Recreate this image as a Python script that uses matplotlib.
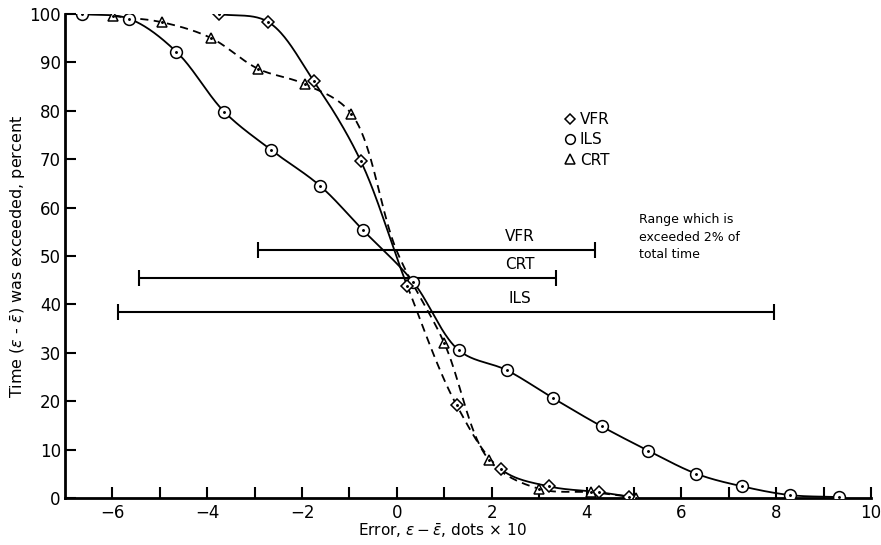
import numpy as np
import matplotlib

matplotlib.use("Agg")

import matplotlib.pyplot as plt
from matplotlib.lines import Line2D


# values
ils_x = [-6.65, -5.64, -4.65, -3.64, -2.65, -1.62, -0.72, 0.34, 1.31, 2.32, 3.30, 4.32, 5.30, 6.32, 7.29, 8.30, 9.33]
ils_y = [100.0, 99.0, 92.2, 79.8, 71.9, 64.5, 55.4, 44.7, 30.5, 26.4, 20.6, 14.8, 9.8, 5.0, 2.4, 0.6, 0.2]

vfr_x = [-3.75, -2.72, -1.75, -0.76, 0.22, 1.26, 2.20, 3.21, 4.27, 4.90]
vfr_y = [100.0, 98.4, 86.1, 69.6, 43.8, 19.2, 5.9, 2.4, 1.2, 0.3]

crt_x = [-5.98, -4.95, -3.93, -2.93, -1.94, -0.96, 1.00, 1.95, 3.00, 4.10, 5.05]
crt_y = [99.6, 98.3, 95.1, 88.7, 85.5, 79.4, 32.0, 7.8, 1.9, 1.2, 0.1]

# the dashed CRT curve also runs through the common crossing near (0, 51)
crt_knot_x = [0.0]
crt_knot_y = [51.0]

range_names = ["VFR", "CRT", "ILS"]
range_lo = [-2.93, -5.45, -5.89]
range_hi = [4.18, 3.35, 7.95]
range_y = [51.3, 45.4, 38.4]

x_major = [-6, -4, -2, 0, 2, 4, 6, 8, 10]
x_minor = [-5, -3, -1, 1, 3, 5, 7, 9]
y_ticks = [0, 10, 20, 30, 40, 50, 60, 70, 80, 90, 100]


def _smooth(xs, ys, n=40, xscale=10.0):
    """Centripetal Catmull-Rom curve through the read points (drawing only)."""
    p = np.column_stack([np.asarray(xs, float) * xscale, np.asarray(ys, float)])
    p = np.vstack([2 * p[0] - p[1], p, 2 * p[-1] - p[-2]])
    out = [p[1]]
    for i in range(1, len(p) - 2):
        p0, p1, p2, p3 = p[i - 1], p[i], p[i + 1], p[i + 2]
        t0 = 0.0
        t1 = t0 + np.linalg.norm(p1 - p0) ** 0.5
        t2 = t1 + np.linalg.norm(p2 - p1) ** 0.5
        t3 = t2 + np.linalg.norm(p3 - p2) ** 0.5
        t = np.linspace(t1, t2, n)[1:, None]
        a1 = (t1 - t) / (t1 - t0) * p0 + (t - t0) / (t1 - t0) * p1
        a2 = (t2 - t) / (t2 - t1) * p1 + (t - t1) / (t2 - t1) * p2
        a3 = (t3 - t) / (t3 - t2) * p2 + (t - t2) / (t3 - t2) * p3
        b1 = (t2 - t) / (t2 - t0) * a1 + (t - t0) / (t2 - t0) * a2
        b2 = (t3 - t) / (t3 - t1) * a2 + (t - t1) / (t3 - t1) * a3
        c = (t2 - t) / (t2 - t1) * b1 + (t - t1) / (t2 - t1) * b2
        out.extend(c)
    out = np.array(out)
    return out[:, 0] / xscale, out[:, 1]


def _markers(ax, xs, ys, marker, ms):
    ax.plot(xs, ys, ls="none", marker=marker, ms=ms, mfc="white", mec="black", mew=1.1, zorder=4)
    ax.plot(xs, ys, ls="none", marker=".", ms=2.2, color="black", zorder=5)


def main() -> None:
    plt.rcParams["font.family"] = "DejaVu Sans"
    plt.rcParams["mathtext.fontset"] = "dejavusans"

    fig = plt.figure(figsize=(8.81, 5.45), dpi=100)
    ax = fig.add_axes([0.0738, 0.0862, 0.9148, 0.888])

    lw = 1.3
    dash = (4.5, 3.0)

    # ILS (solid)
    sx, sy = _smooth(ils_x, ils_y)
    ax.plot(sx, sy, color="black", lw=lw, zorder=3)

    # VFR (solid, dashed between the 0.2 and 2.2 points)
    sx, sy = _smooth(vfr_x, vfr_y)
    lo, hi = vfr_x[4], vfr_x[6]
    ax.plot(np.where(sx <= lo + 1e-9, sx, np.nan), sy, color="black", lw=lw, zorder=3)
    ax.plot(np.where(sx >= hi - 1e-9, sx, np.nan), sy, color="black", lw=lw, zorder=3)
    mid = (sx >= lo - 1e-9) & (sx <= hi + 1e-9)
    ax.plot(sx[mid], sy[mid], color="black", lw=lw, dashes=dash, zorder=3)

    # CRT (dashed)
    order = np.argsort(crt_x + crt_knot_x)
    cx = np.array(crt_x + crt_knot_x)[order]
    cy = np.array(crt_y + crt_knot_y)[order]
    sx, sy = _smooth(cx, cy)
    ax.plot(sx, sy, color="black", lw=lw, dashes=dash, zorder=3)

    _markers(ax, ils_x, ils_y, "o", 8.5)
    _markers(ax, vfr_x, vfr_y, "D", 6.3)
    _markers(ax, crt_x, crt_y, "^", 7.8)

    # ranges exceeded 2% of total time
    ax.hlines(range_y, range_lo, range_hi, color="black", lw=1.5, zorder=2)
    ax.plot(range_lo, range_y, ls="none", marker="|", ms=11, mew=1.5, color="black")
    ax.plot(range_hi, range_y, ls="none", marker="|", ms=11, mew=1.5, color="black")
    for name, yv in zip(range_names, range_y):
        ax.text(2.6, yv + 1.2, name, ha="center", va="bottom", fontsize=11)

    ax.text(5.1, 58.8, "Range which is\nexceeded 2% of\ntotal time",
            ha="left", va="top", fontsize=9, linespacing=1.45)

    handles = [
        Line2D([], [], ls="none", marker="D", ms=5.5, mfc="white", mec="black", mew=1.1),
        Line2D([], [], ls="none", marker="o", ms=7, mfc="white", mec="black", mew=1.1),
        Line2D([], [], ls="none", marker="^", ms=7, mfc="white", mec="black", mew=1.1),
    ]
    ax.legend(handles, ["VFR", "ILS", "CRT"], loc="upper left", bbox_to_anchor=(0.612, 0.81),
              frameon=False, fontsize=11, handlelength=0.7, handletextpad=0.3,
              labelspacing=0.35, borderaxespad=0.0)

    ax.set_xlim(-7, 10)
    ax.set_ylim(0, 100)
    ax.set_xticks(x_major)
    ax.set_xticks(x_minor, minor=True)
    ax.set_yticks(y_ticks)
    ax.tick_params(axis="both", which="both", direction="in", width=1.5, labelsize=12)
    ax.tick_params(axis="x", which="both", length=8, pad=4)
    ax.tick_params(axis="y", length=8, pad=3)
    for side in ("top", "right"):
        ax.spines[side].set_visible(False)
    for side in ("left", "bottom"):
        ax.spines[side].set_linewidth(2.0)

    ax.set_xlabel(r"Error, $\epsilon-\bar{\epsilon}$, dots$\,\times\,$10", fontsize=11)
    ax.xaxis.set_label_coords(0.468, -0.05)
    ax.set_ylabel(r"Time ($\epsilon$ - $\bar{\epsilon}$) was exceeded, percent", fontsize=11.5)
    ax.yaxis.set_label_coords(-0.046, 0.5)

    fig.savefig("out.png", dpi=100)
    plt.close(fig)


if __name__ == "__main__":
    main()
